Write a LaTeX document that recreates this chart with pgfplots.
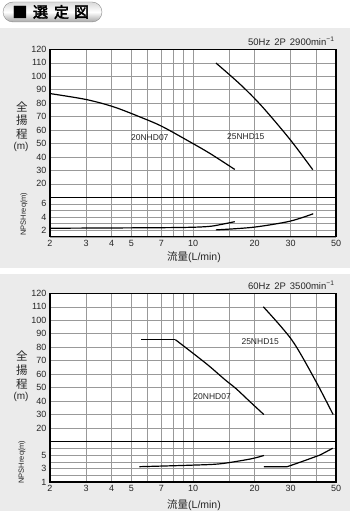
\documentclass[border=0pt]{standalone}
\usepackage{pgfplots}
\pgfplotsset{compat=1.18}
\usepackage{fontspec}
\setmainfont{Liberation Sans}
\newfontfamily\cjk{Noto Sans CJK JP}
\newfontfamily\cjkb{Noto Sans CJK JP}[FakeBold=3]
\pgfplotsset{every axis/.append style={
  scale only axis, width=286pt, anchor=north west,
  xmin=2, xmax=50,
  axis line style={black, line width=1.2pt},
  major tick length=0pt,
  tick label style={font=\fontsize{9}{10}\selectfont, text=black!85}}}
\tikzset{pcurve/.style={black, line width=1.2pt},
  plab/.style={font=\fontsize{8.5}{10}\selectfont, text=black!85}}
\begin{document}
\begin{tikzpicture}
\path[use as bounding box] (0,0) rectangle (350pt,-511pt);
\fill[black!8] (0pt,-28pt) rectangle (350pt,-268pt);
\fill[black!8] (0pt,-274pt) rectangle (350pt,-511pt);
\fill[white] (50pt,-49.3pt) rectangle (336pt,-236.8pt);
\fill[white] (50pt,-293.3pt) rectangle (336pt,-482pt);
\shadedraw[draw=black!45, rounded corners=10pt, top color=black!15, bottom color=black!35, middle color=white] (3pt,-2pt) rectangle (102pt,-22pt);
\node[font=\cjkb\fontsize{15}{15}\selectfont] at (20pt,-12pt) {■};
\node[font=\cjkb\fontsize{15}{15}\selectfont] at (40.5pt,-12pt) {選};
\node[font=\cjkb\fontsize{15}{15}\selectfont] at (61.5pt,-12pt) {定};
\node[font=\cjkb\fontsize{15}{15}\selectfont] at (81.5pt,-12pt) {図};

% ---------- 50 Hz ----------
\begin{axis}[xmode=log, at={(50pt,-49.3pt)}, height=148pt, ymin=10, ymax=120,
  xtick={2,3,4,5,6,7,8,9,10,15,20,30,40,50},
  ytick={20,30,...,120}, xticklabels={},
  xmajorgrids=true, ymajorgrids=true,
  major grid style={black!40, line width=0.5pt},
  /pgf/number format/assume math mode=true]
\addplot[pcurve, smooth, mark=none] coordinates {(2,87.1) (3,82.7) (4.08,77.3) (5.51,69.7) (7.03,62.8) (9.66,51.2) (12.1,42.6) (16.0,30.7)};
\addplot[pcurve, smooth, mark=none] coordinates {(12.95,109.8) (17,94) (21.7,77.7) (29.8,53) (38.5,30.5)};
\node[plab] at (axis cs:6.15,54.4) {20NHD07};
\node[plab] at (axis cs:18.1,55.4) {25NHD15};
\end{axis}
\begin{axis}[xmode=log, at={(50pt,-197.3pt)}, height=39.5pt, ymin=1, ymax=7,
  xtick={2,3,4,5,6,7,8,9,10,15,20,30,40,50},
  ytick={1,2,...,7}, yticklabels={,2,,4,,6,},
  xmajorgrids=true, ymajorgrids=true,
  major grid style={black!40, line width=0.5pt},
  xticklabels={2,3,4,5,,7,,,10,,20,30,,50}]
\addplot[pcurve, smooth, mark=none] coordinates {(2,2.3) (8,2.4) (11.7,2.55) (13.6,2.85) (16,3.3)};
\addplot[pcurve, smooth, mark=none] coordinates {(12.95,2.05) (19.7,2.45) (29.6,3.35) (38.7,4.5)};
\end{axis}
\node[anchor=base east, font=\fontsize{9.5}{11}\selectfont, text=black!85] at (338pt,-45.5pt) {50Hz\hspace{4pt}2P\hspace{4pt}2900min\textsuperscript{−1}};
\node[font=\cjk\fontsize{11.5}{12}\selectfont, text=black!85] at (22pt,-107pt) {全};
\node[font=\cjk\fontsize{11.5}{12}\selectfont, text=black!85] at (22pt,-120.5pt) {揚};
\node[font=\cjk\fontsize{11.5}{12}\selectfont, text=black!85] at (22pt,-134pt) {程};
\node[font=\fontsize{10}{12}\selectfont, text=black!85] at (21pt,-147pt) {(m)};
\node[rotate=90, font=\fontsize{7.5}{8}\selectfont, text=black!85] at (24pt,-214pt) {NPSHreq(m)};
\node[font=\fontsize{10.5}{12}\selectfont, text=black!85] at (194pt,-257.5pt) {{\cjk 流量}(L/min)};

% ---------- 60 Hz ----------
\begin{axis}[xmode=log, at={(50pt,-293.3pt)}, height=148.2pt, ymin=10, ymax=120,
  xtick={2,3,4,5,6,7,8,9,10,15,20,30,40,50},
  ytick={20,30,...,120}, xticklabels={},
  xmajorgrids=true, ymajorgrids=true,
  major grid style={black!40, line width=0.5pt},
  /pgf/number format/assume math mode=true]
\addplot[pcurve, mark=none] coordinates {(5.6,85.6) (8.2,85.6)};
\addplot[pcurve, smooth, mark=none] coordinates {(8.2,85.6) (10,75.5) (12,66) (14.3,56) (16.3,49) (19,39.5) (22.2,30)};
\addplot[pcurve, smooth, mark=none] coordinates {(22.06,110) (30.4,85.4) (39.5,55.8) (48.4,30)};
\node[plab] at (axis cs:21.3,84) {25NHD15};
\node[plab] at (axis cs:12.4,43) {20NHD07};
\end{axis}
\begin{axis}[xmode=log, at={(50pt,-441.5pt)}, height=40.5pt, ymin=1, ymax=7,
  xtick={2,3,4,5,6,7,8,9,10,15,20,30,40,50},
  ytick={1,2,...,7}, yticklabels={1,,3,,5,,},
  xmajorgrids=true, ymajorgrids=true,
  major grid style={black!40, line width=0.5pt},
  xticklabels={2,3,4,5,,7,,,10,,20,30,,50}]
\addplot[pcurve, smooth, mark=none] coordinates {(5.47,3.27) (10,3.5) (13.6,3.7) (19,4.4) (22.2,4.93)};
\addplot[pcurve, mark=none] coordinates {(22.2,3.27) (28.9,3.27) (35,4.15) (41.8,5.0) (48.2,6.0)};
\end{axis}
\node[anchor=base east, font=\fontsize{9.5}{11}\selectfont, text=black!85] at (338pt,-289pt) {60Hz\hspace{4pt}2P\hspace{4pt}3500min\textsuperscript{−1}};
\node[font=\cjk\fontsize{11.5}{12}\selectfont, text=black!85] at (22pt,-356pt) {全};
\node[font=\cjk\fontsize{11.5}{12}\selectfont, text=black!85] at (22pt,-370pt) {揚};
\node[font=\cjk\fontsize{11.5}{12}\selectfont, text=black!85] at (22pt,-384pt) {程};
\node[font=\fontsize{10}{12}\selectfont, text=black!85] at (21pt,-397pt) {(m)};
\node[rotate=90, font=\fontsize{7.5}{8}\selectfont, text=black!85] at (22pt,-462pt) {NPSHreq(m)};
\node[font=\fontsize{10.5}{12}\selectfont, text=black!85] at (194pt,-505pt) {{\cjk 流量}(L/min)};
\end{tikzpicture}
\end{document}
